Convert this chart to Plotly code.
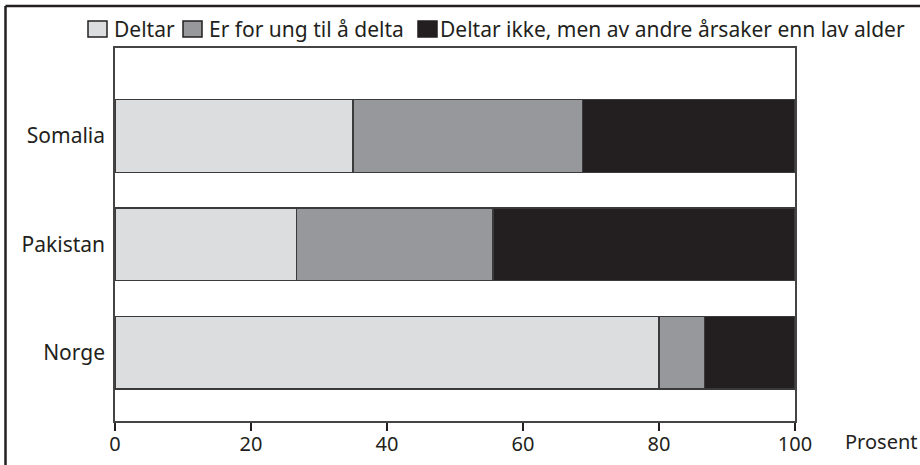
import plotly.graph_objects as go

categories = ["Norge", "Pakistan", "Somalia"]
series_names = ["Deltar", "Er for ung til å delta", "Deltar ikke, men av andre årsaker enn lav alder"]
deltar = [80.0, 26.7, 35.0]
for_ung = [6.7, 28.9, 33.7]
deltar_ikke = [13.3, 44.4, 31.3]
x_ticks = [0, 20, 40, 60, 80, 100]
colors = ["#dcdddf", "#97989b", "#231f20"]

W, H = 920, 465
L, R, T, B = 115, 125, 48, 44
pw, ph = W - L - R, H - T - B


def px(x):
    return (x - L) / pw


def py(y):
    return 1 - (y - T) / ph


fig = go.Figure()
for name, vals, col in zip(series_names, [deltar, for_ung, deltar_ikke], colors):
    fig.add_trace(go.Bar(
        y=categories, x=vals, name=name, orientation="h",
        marker=dict(color=col, line=dict(color="#3a3a3a", width=1.2)),
        width=0.67, showlegend=False,
    ))

font_main = "Noto Sans, Open Sans, DejaVu Sans, sans-serif"
txt = "#231f20"
fig.update_layout(
    width=W, height=H,
    margin=dict(l=L, r=R, t=T, b=B, autoexpand=False),
    barmode="stack",
    plot_bgcolor="white", paper_bgcolor="white",
    font=dict(family=font_main, size=21, color=txt),
    showlegend=False,
    xaxis=dict(range=[0, 100], tickvals=x_ticks, ticks="outside", ticklen=8,
               tickwidth=1.5, tickcolor=txt, showgrid=False, zeroline=False,
               showline=True, linecolor="#444444", linewidth=1.5, mirror=True,
               ticklabelstandoff=-4, tickfont=dict(size=20)),
    yaxis=dict(range=[-0.63, 2.81], showgrid=False, zeroline=False, ticks="",
               showline=True, linecolor="#444444", linewidth=1.5, mirror=True,
               ticklabelstandoff=4, tickfont=dict(size=21)),
)

# legend (manual, to match the reference spacing)
box_x = [88, 183, 418]
text_x = [114, 209, 440]
for name, col, bx, tx in zip(series_names, colors, box_x, text_x):
    fig.add_shape(type="rect", xref="paper", yref="paper",
                  x0=px(bx), x1=px(bx + 19), y0=py(37), y1=py(21),
                  fillcolor=col, line=dict(color=txt, width=1.5))
    fig.add_annotation(text=name, xref="paper", yref="paper",
                       x=px(tx), y=py(29), xanchor="left", yanchor="middle",
                       showarrow=False, font=dict(size=21), xshift=-2)

fig.add_annotation(text="Prosent", xref="paper", yref="paper",
                   x=px(845), y=py(441),
                   xanchor="left", yanchor="middle", showarrow=False,
                   font=dict(size=20), xshift=-2)

# outer frame (left and top edges visible)
fig.add_shape(type="line", xref="paper", yref="paper", x0=px(5.5), x1=px(5.5),
              y0=py(480), y1=py(6), line=dict(color=txt, width=2.5))
fig.add_shape(type="line", xref="paper", yref="paper", x0=px(5.5), x1=px(940),
              y0=py(6), y1=py(6), line=dict(color=txt, width=2.5))

fig.write_html("out.html", config={"displayModeBar": False},
               post_script="document.body.style.margin='0';")
